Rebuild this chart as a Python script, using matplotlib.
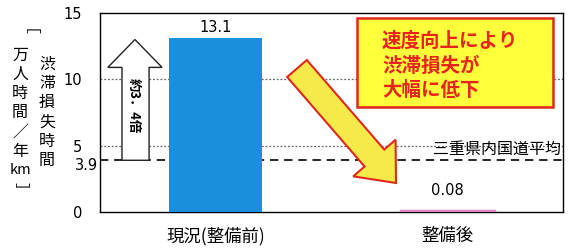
import numpy as np
import matplotlib
matplotlib.use("Agg")
import matplotlib.pyplot as plt
from matplotlib.patches import Polygon, Rectangle
from matplotlib.transforms import blended_transform_factory

plt.rcParams['font.family'] = ['Noto Sans CJK JP', 'DejaVu Sans']

# データ
categories = ['現況(整備前)', '整備後']
loss_hours = [13.1, 0.08]
value_labels = ['13.1', '0.08']
bar_colors = ['#1b8fdc', '#e384c4']
pref_avg = 3.9
yticks = [0, 5, 10, 15]
ratio_text = '約3．4倍'
callout_lines = ['速度向上により', '渋滞損失が', '大幅に低下']
avg_label = '三重県内国道平均'
ylabel1 = list('渋滞損失時間')
ylabel2 = ['［', '万', '人', '時', '間', '／', '年', 'km', '］']

W, H = 573, 249
fig = plt.figure(figsize=(W / 100, H / 100), dpi=100)
ax = fig.add_axes([100 / W, 1 - 212 / H, 463 / W, 199 / H])

def px(x, y):
    # 画像ピクセル -> 図の比率
    return x / W, 1 - y / H

x = np.arange(len(categories))
ax.bar(x, loss_hours, width=0.4, color=bar_colors, zorder=3,
       edgecolor=bar_colors, linewidth=[0, 2.5])
ax.set_xlim(-0.5, 1.5)
ax.set_ylim(0, 15)

for yv in (5, 10):
    ax.axhline(yv, color='#666666', lw=0.9, ls=(0, (1.5, 1.5)), zorder=1)
ax.axhline(pref_avg, color='black', lw=1.2, ls=(0, (5, 3.5)), zorder=2)

ax.set_yticks(yticks)
ax.set_yticklabels([str(t) for t in yticks], fontsize=10.5, family='DejaVu Sans')
ax.tick_params(axis='y', length=0, pad=13)
ax.set_xticks(x)
ax.set_xticklabels(categories, fontsize=12.5)
ax.tick_params(axis='x', length=0, pad=11)
for sp in ax.spines.values():
    sp.set_linewidth(1.0)

ax.text(-0.51, pref_avg - 0.4, '3.9', ha='right', va='center', fontsize=10.5,
        family='DejaVu Sans')

ax.text(x[0], loss_hours[0] + 0.25, value_labels[0], ha='center', va='bottom',
        fontsize=10.5, family='DejaVu Sans')
ax.text(x[1], loss_hours[1] + 1.0, value_labels[1], ha='center', va='bottom',
        fontsize=10.5, family='DejaVu Sans')

ax.text(1.49, pref_avg + 0.2, avg_label, ha='right', va='bottom',
        fontsize=11.5, zorder=5)

# 白い上向き矢印（3.9 -> 13.1）
bt = blended_transform_factory(ax.transAxes, ax.transData)
xs0, xs1 = 0.0475, 0.106
xh0, xh1 = 0.017, 0.134
xc = (xh0 + xh1) / 2
head_base = 10.9
tip = 13.0
verts = [(xs0, pref_avg), (xs0, head_base), (xh0, head_base), (xc, tip),
         (xh1, head_base), (xs1, head_base), (xs1, pref_avg)]
ax.add_patch(Polygon(verts, closed=True, transform=bt, facecolor='white',
                     edgecolor='#222222', lw=1.0, zorder=4))
ax.text(xc - 0.002, 8.0, ratio_text, transform=bt, rotation=-90, ha='center',
        va='center', fontsize=9.5, fontweight='bold', zorder=5)

# 黄色い斜め矢印
T = np.array([297.0, 68.5])
P = np.array([396.0, 183.0])
d = P - T
L = np.hypot(*d)
u = d / L
n = np.array([u[1], -u[0]])
B = T + (L - 33) * u
pts = [T + 13 * n, B + 13 * n, B + 28 * n, P, B - 28 * n, B - 13 * n, T - 13 * n]
fig.patches.append(Polygon([px(*p) for p in pts], closed=True,
                           transform=fig.transFigure, facecolor='#f6e94a',
                           edgecolor='#e0281c', lw=1.5, zorder=6))

# 吹き出しボックス
x0, y0 = px(357, 107)
x1, y1 = px(553, 18)
fig.patches.append(Rectangle((x0, y0), x1 - x0, y1 - y0, transform=fig.transFigure,
                             facecolor='#ffff3c', edgecolor='#e0281c', lw=1.8,
                             zorder=7))
for i, line in enumerate(callout_lines):
    fig.text(*px(382, 41 + 25 * i), line, ha='left', va='center', fontsize=14,
             fontweight='bold', color='#e8231b', zorder=8)

# 縦書きの軸ラベル
for i, ch in enumerate(ylabel1):
    fig.text(*px(47, 64 + 19.3 * i), ch, ha='center', va='center', fontsize=11.5)
for i, ch in enumerate(ylabel2):
    rot = -90 if ch in ('［', '］') else 0
    fs = 10.5 if ch == 'km' else 11.5
    fig.text(*px(20, 36 + 19.2 * i), ch, ha='center', va='center', fontsize=fs,
             rotation=rot)

fig.savefig('out.png', dpi=100)
